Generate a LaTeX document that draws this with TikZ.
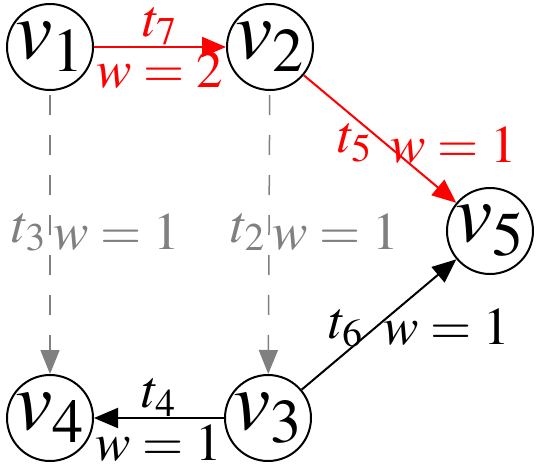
\documentclass[tikz,border=0pt]{standalone}
\usepackage{mathptmx}
\usepackage{tikz}
\usetikzlibrary{arrows.meta,positioning}
\definecolor{skip}{RGB}{128,128,128}

\begin{document}
\begin{tikzpicture}[x=0.5pt, y=-0.5pt,
  v/.style={draw, circle, line width=1pt, minimum size=43pt, inner sep=0pt, font=\fontsize{42}{45}\selectfont},
  lab/.style={inner sep=1.5pt, font=\fontsize{26.5}{30}\selectfont},
  arr/.style={-{Triangle[length=12pt,width=10pt]}, line width=1pt},
  skiparr/.style={-{Triangle[length=12pt,width=9.5pt]}, line width=0.75pt, skip, dash pattern=on 10pt off 10pt, dash phase=-2pt}
]
\useasboundingbox (0,0) rectangle (537,467);

\node[v] (v1) at (50,47) {$v_1$};
\node[v, right=66pt of v1] (v2) {$v_2$};
\node[v] (v4) at (50,418) {$v_4$};
\node[v, right=65pt of v4] (v3) {$v_3$};
\node[v] (v5) at (490,231) {$v_5$};

% red path
\draw[arr, red] (v1) -- node[lab, above, inner sep=0.5pt] {$t_7$} node[lab, below, inner sep=2pt] {$w = 2$} (v2);
\draw[arr, red] (v2) -- node[lab, anchor=east, xshift=-2pt, yshift=-2pt] {$t_5$}
                        node[lab, anchor=west, xshift=3pt, yshift=-3pt] {$w = 1$} (v5);

% skipped edges
\draw[skiparr] (v1) -- node[lab, left] {$t_3$} node[lab, right] {$w = 1$} (v4);
\draw[skiparr] (v2) -- node[lab, left] {$t_2$} node[lab, right] {$w = 1$} (v3);

\draw[arr] (v3) -- node[lab, above, inner sep=0.5pt] {$t_4$} node[lab, below, inner sep=3pt] {$w = 1$} (v4);
\draw[arr] (v3) -- node[lab, anchor=east, xshift=-6pt, yshift=-2pt] {$t_6$}
                   node[lab, anchor=west, xshift=0pt, yshift=-1.5pt] {$w = 1$} (v5);
\end{tikzpicture}
\end{document}
